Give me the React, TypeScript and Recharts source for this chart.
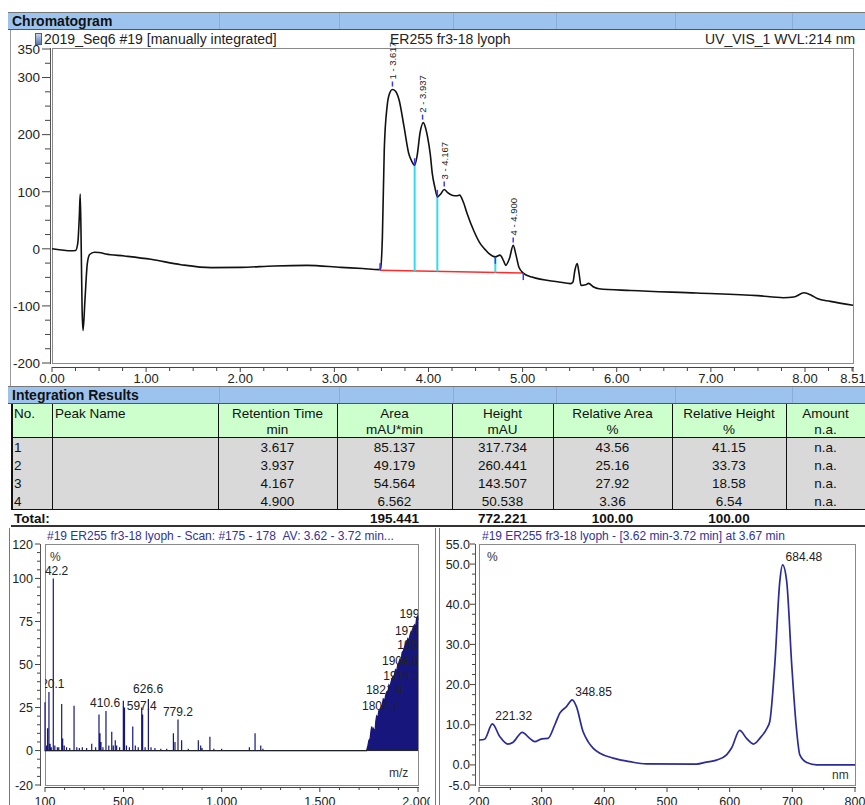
import React from "react";
import { Area, AreaChart, Line, LineChart, ReferenceDot, ReferenceLine, XAxis, YAxis } from "recharts";

const FONT = "'Liberation Sans', Arial, Helvetica, sans-serif";
const BLUE_BAR = "#9cc3ee";
const GREEN = "#ccffcc";
const GRAY_ROW = "#d9d9d9";
const NAVY = "#16167c";
const TITLE_BLUE = "#333399";

// ---- chromatogram (UV_VIS_1, 214 nm) ----
const chromTime = [
  0, 0.1, 0.2, 0.25, 0.274, 0.29, 0.3, 0.311, 0.32, 0.33, 0.35, 0.375, 0.4, 0.45, 0.5, 0.57, 0.77, 1.05, 1.37,
  1.69, 2.01, 2.36, 2.71, 3.07, 3.3, 3.475, 3.49, 3.51, 3.53, 3.56, 3.58, 3.617, 3.65, 3.687, 3.74, 3.79, 3.82,
  3.853, 3.88, 3.91, 3.945, 3.97, 3.99, 4.02, 4.04, 4.07, 4.094, 4.13, 4.167, 4.2, 4.25, 4.3, 4.33, 4.37, 4.41,
  4.48, 4.55, 4.6, 4.64, 4.71, 4.76, 4.8, 4.82, 4.86, 4.9, 4.93, 4.96, 5.007, 5.1, 5.385, 5.51, 5.535, 5.555,
  5.58, 5.6, 5.62, 5.67, 5.7, 5.755, 5.81, 6.15, 6.85, 7.5, 7.77, 7.88, 7.99, 8.07, 8.13, 8.27, 8.51
];
const chromSignal = [
  0, -2, -3.5, -3, 10, 56, 96, -3, -108, -143, -90, -26, -10, -6, -6.5, -9, -12.6, -18.4, -27.8,
  -33, -32.5, -30, -29, -32.5, -34.5, -36.5, -35, 20, 173, 249, 269, 279, 276, 261, 214, 167, 154,
  146.5, 164, 203, 221, 211, 196, 164, 132, 106, 91, 96, 104, 99, 94, 93, 94, 82, 62,
  32, 9, -1, -8, -14, -11, -22, -29, -17, 6, -11, -32, -42.5, -49.5, -58, -61, -58, -38,
  -26, -43.5, -64, -63, -60.5, -67, -70, -73, -77.5, -82, -85.6, -84.5, -77, -81.6, -87, -92, -99
];
const chromXLabels = [0, 1, 2, 3, 4, 5, 6, 7, 8, 8.51];
const chromYLabels = [350, 300, 200, 100, 0, -100, -200];

// integration results
const peakNo = [1, 2, 3, 4];
const retTime = [3.617, 3.937, 4.167, 4.9];
const peakArea = [85.137, 49.179, 54.564, 6.562];
const peakHeight = [317.734, 260.441, 143.507, 50.538];
const relArea = [43.56, 25.16, 27.92, 3.36];
const relHeight = [41.15, 33.73, 18.58, 6.54];
const peakTop = [279, 221, 104, 6];
const totals = { area: 195.441, height: 772.221, relArea: 100, relHeight: 100 };

// integration baseline and delimiters
const baselineStart = { t: 3.485, v: -37.7 };
const baselineEnd = { t: 5.007, v: -42.5 };
const dropTime = [3.853, 4.094, 4.71];
const dropBase = [-38.9, -39.6, -41.6];
const dropTop = [146.5, 91, -14];

// ---- MS spectrum ----
const msStickMz = [
  100, 108, 113, 120.1, 126, 132, 142.2, 150, 163, 170, 185, 190, 198, 210, 226, 248, 262, 275, 290, 312, 338, 358,
  375, 380, 385, 395, 410.6, 425, 440, 448, 458, 465, 480, 499, 505, 515, 530, 547, 560, 575, 592.6, 597.4, 610,
  626.6, 640, 660, 690, 720, 754, 762, 777.5, 796, 830, 881, 893, 900, 940, 960, 1000, 1141, 1170, 1199, 1210
];
const msStickPct = [
  28, 3, 13, 34, 4, 2, 100, 3, 2, 2, 27, 7, 3, 2, 1.5, 26, 2, 1.5, 2, 1.5, 4, 2,
  21, 10, 5, 2, 23, 3, 11, 3, 6, 3, 2, 29, 25, 3, 2, 14, 3, 2, 25, 21, 2,
  30, 2, 1.5, 1, 1, 10, 5, 18, 6, 1, 6, 3, 1.5, 8, 1, 1, 2, 10, 3, 1
];
const msDenseMz = [
  1738, 1745, 1750, 1756, 1760, 1764, 1768, 1772, 1777, 1781, 1785, 1789, 1795, 1800, 1806, 1812, 1818, 1823,
  1830, 1835, 1840, 1848, 1852, 1857, 1863, 1868, 1874, 1880, 1885, 1891, 1897, 1902, 1908, 1914, 1919, 1925,
  1931, 1936, 1942, 1948, 1953, 1959, 1965, 1970, 1976, 1982, 1987, 1993, 1998, 2000
];
const msDensePct = [
  0, 3, 6, 7, 11, 14, 10, 13, 12, 11, 17, 20, 19, 23, 24, 25, 27, 30,
  29, 32, 34, 35, 38, 37, 40, 42, 43, 44, 47, 46, 50, 51, 53, 52, 57, 58,
  60, 62, 63, 65, 64, 67, 69, 68, 72, 73, 71, 77, 78, 76
];
const msLabelText = ["120.1", "142.2", "410.6", "597.4", "626.6", "779.2", "1802.7", "1821.9", "1914.3", "1904.6", "1958.9", "1970.6", "1999.2"];
const msLabelMz = [123, 142, 406, 593, 625, 777, 1808, 1828, 1917, 1910, 1988, 1976, 1999];
const msLabelPct = [36.4, 102, 25.5, 23.6, 33.5, 20.1, 23.6, 33, 41, 49.8, 59, 67, 77];
const msXLabels = [100, 500, 1000, 1500, 2000];
const msYLabels = [120, 100, 75, 50, 25, 0, -20];

// ---- UV/VIS spectrum ----
const uvNm = [
  200, 209, 221.32, 233, 246, 254, 269, 281, 289, 300, 310, 321, 329, 339.5, 348.85, 355.5, 366, 374, 382, 393,
  414, 441, 467, 547, 563, 579, 595, 603, 616, 627, 638, 648, 659, 664, 672, 680, 684.48, 691, 699, 706, 712,
  723, 739, 800
];
const uvPct = [
  6.2, 6.4, 10.2, 7.1, 5.2, 5.6, 8.1, 6.6, 5.8, 6.5, 6.6, 10, 12.9, 14.5, 16.2, 14.5, 8.3, 5.8, 4.2, 2.9,
  1.7, 0.8, 0.25, 0.2, 0.7, 1.2, 2.5, 4.2, 8.6, 6.6, 5.2, 6.6, 9, 10.8, 25, 45.7, 49.8, 45.7, 25, 10, 2.5,
  0.6, 0, 0
];
const uvPeakNm = [221.32, 348.85, 684.48];
const uvPeakPct = [10.2, 16.2, 49.8];
const uvXLabels = [200, 300, 400, 500, 600, 700, 800];
const uvYLabels = [55, 50, 40, 30, 20, 10, 0, -5];

const chromData = chromTime.map((t, i) => ({ t, v: chromSignal[i] }));
const msData = [
  ...msStickMz.flatMap((mz, i) => [
    { mz, pct: 0 },
    { mz, pct: msStickPct[i] },
    { mz, pct: 0 }
  ]),
  ...msDenseMz.map((mz, i) => ({ mz, pct: msDensePct[i] }))
];
const uvData = uvNm.map((nm, i) => ({ nm, pct: uvPct[i] }));

function range(start: number, step: number, count: number) {
  return Array.from({ length: count }, (_, i) => Number((start + i * step).toFixed(4)));
}

const has = (list: number[], v: number) => list.some((l) => Math.abs(l - v) < 1e-6);

function yTick(opts: { majors: number[]; gap: number; major: number; minor: number; labelGap: number; size: number; fmt: (v: number) => string }) {
  return (props: any) => {
    const { x, y, payload } = props;
    const isMajor = has(opts.majors, payload.value);
    const x2 = x - opts.gap;
    return (
      <g>
        <line x1={x2 - (isMajor ? opts.major : opts.minor)} x2={x2} y1={y} y2={y} stroke="#444" />
        {isMajor && (
          <text x={x - opts.labelGap} y={y} dy="0.36em" textAnchor="end" fontSize={opts.size} fill="#222" fontFamily={FONT}>
            {opts.fmt(payload.value)}
          </text>
        )}
      </g>
    );
  };
}

function xTick(opts: { majors: number[]; gap: number; major: number; minor: number; labelY: number; size: number; fmt: (v: number) => string }) {
  return (props: any) => {
    const { x, y, payload } = props;
    const isMajor = has(opts.majors, payload.value);
    const y1 = y + opts.gap;
    return (
      <g>
        <line x1={x} x2={x} y1={y1} y2={y1 + (isMajor ? opts.major : opts.minor)} stroke="#444" />
        {isMajor && (
          <text x={x} y={y + opts.labelY} textAnchor="middle" fontSize={opts.size} fill="#222" fontFamily={FONT}>
            {opts.fmt(payload.value)}
          </text>
        )}
      </g>
    );
  };
}

function PeakLabel(props: any) {
  const { cx, cy, text } = props;
  return (
    <g>
      <line x1={cx} x2={cx} y1={cy - 8} y2={cy - 3} stroke="#3a3aff" strokeWidth={1.5} />
      <text
        x={cx}
        y={cy - 10}
        transform={`rotate(-90 ${cx} ${cy - 10})`}
        dominantBaseline="central"
        fontSize={9.5}
        fill="#222"
        fontFamily={FONT}
      >
        {text}
      </text>
    </g>
  );
}

function Delimiter(props: any) {
  const { cx, cy, down } = props;
  return <line x1={cx} x2={cx} y1={down ? cy : cy - 7} y2={down ? cy + 7 : cy} stroke="#3a3aff" strokeWidth={1.5} />;
}

function PlainLabel(props: any) {
  const { cx, cy, text, anchor, dx, dy, clip } = props;
  return (
    <text
      x={cx + (dx || 0)}
      y={cy + (dy || 0)}
      textAnchor={anchor}
      fontSize={12}
      fill="#222"
      fontFamily={FONT}
      clipPath={clip ? `url(#${clip})` : undefined}
    >
      {text}
    </text>
  );
}

const box = (left: number, top: number, width: number, height: number, extra: React.CSSProperties = {}): React.CSSProperties => ({
  position: "absolute",
  left,
  top,
  width,
  height,
  boxSizing: "border-box",
  ...extra
});

function Chromatogram() {
  const delimiters = [
    { t: baselineStart.t, v: baselineStart.v, down: false },
    { t: dropTime[0], v: dropTop[0], down: false },
    { t: dropTime[1], v: dropTop[1], down: false },
    { t: dropTime[2], v: dropTop[2], down: true },
    { t: baselineEnd.t, v: baselineEnd.v, down: true }
  ];
  return (
    <>
      <div style={box(52, 48, 802, 316, { border: "1px solid #8a8a8a" })} />
      <div style={box(50, 48, 1, 316, { background: "#555" })} />
      <div style={box(52, 367, 802, 1, { background: "#444" })} />
      <div style={{ position: "absolute", left: 0, top: 0 }}>
        <LineChart width={865} height={395} data={chromData} margin={{ top: 49, right: 12, bottom: 4, left: 10 }}>
          <XAxis
            dataKey="t"
            type="number"
            domain={[0, 8.51]}
            ticks={[...range(0, 0.25, 35), 8.51]}
            interval={0}
            axisLine={false}
            tickLine={false}
            tickSize={0}
            tickMargin={0}
            height={28}
            tick={xTick({ majors: chromXLabels, gap: 4, major: 5, minor: 4, labelY: 20, size: 13, fmt: (v) => v.toFixed(2) })}
          />
          <YAxis
            type="number"
            domain={[-200, 350]}
            ticks={range(-200, 25, 23)}
            interval={0}
            axisLine={false}
            tickLine={false}
            tickSize={0}
            tickMargin={0}
            width={42}
            tick={yTick({ majors: chromYLabels, gap: 2, major: 8, minor: 5, labelGap: 12, size: 13.5, fmt: (v) => String(v) })}
          />
          <ReferenceLine
            segment={[
              { x: baselineStart.t, y: baselineStart.v },
              { x: baselineEnd.t, y: baselineEnd.v }
            ]}
            stroke="#ff2a2a"
            strokeWidth={1.5}
          />
          {dropTime.map((t, i) => (
            <ReferenceLine
              key={`drop${i}`}
              segment={[
                { x: t, y: dropBase[i] },
                { x: t, y: dropTop[i] }
              ]}
              stroke="#33dcec"
              strokeWidth={2}
            />
          ))}
          <Line type="monotone" dataKey="v" stroke="#111" strokeWidth={1.6} dot={false} isAnimationActive={false} />
          {delimiters.map((d, i) => (
            <ReferenceDot key={`del${i}`} x={d.t} y={d.v} r={0} shape={(p: any) => <Delimiter {...p} down={d.down} />} />
          ))}
          {retTime.map((rt, i) => (
            <ReferenceDot
              key={`pk${i}`}
              x={rt}
              y={peakTop[i]}
              r={0}
              shape={(p: any) => <PeakLabel {...p} text={`${peakNo[i]} - ${rt.toFixed(3)}`} />}
            />
          ))}
        </LineChart>
      </div>
    </>
  );
}

function MassSpectrum() {
  return (
    <>
      <div style={box(45, 544, 374, 242, { border: "1px solid #8a8a8a" })} />
      <div style={box(40, 544, 1, 242, { background: "#555" })} />
      <div style={box(45, 787, 374, 1, { background: "#444" })} />
      <div style={{ position: "absolute", left: 0, top: 527 }}>
        <AreaChart width={430} height={278} data={msData} margin={{ top: 17, right: 12, bottom: 0, left: 5 }}>
          <XAxis
            dataKey="mz"
            type="number"
            domain={[100, 2000]}
            ticks={range(100, 100, 20)}
            interval={0}
            axisLine={false}
            tickLine={false}
            tickSize={0}
            tickMargin={0}
            height={20}
            tick={xTick({ majors: msXLabels, gap: 2, major: 5, minor: 3, labelY: 21, size: 12.5, fmt: (v) => v.toLocaleString("en-US") })}
          />
          <YAxis
            type="number"
            domain={[-20, 120]}
            ticks={range(-20, 5, 29)}
            interval={0}
            axisLine={false}
            tickLine={false}
            tickSize={0}
            tickMargin={0}
            width={40}
            tick={yTick({ majors: msYLabels, gap: 5, major: 5, minor: 3, labelGap: 12, size: 12.5, fmt: (v) => String(v) })}
          />
          <Area
            type="linear"
            dataKey="pct"
            stroke={NAVY}
            strokeWidth={1.2}
            fill={NAVY}
            fillOpacity={1}
            dot={false}
            isAnimationActive={false}
          />
          <ReferenceLine y={0} stroke="#222" strokeWidth={1} />
          {msLabelText.map((text, i) => (
            <ReferenceDot
              key={`ml${i}`}
              x={msLabelMz[i]}
              y={msLabelPct[i]}
              r={0}
              shape={(p: any) => <PlainLabel {...p} text={text} anchor="middle" clip="msPlotClip" />}
            />
          ))}
        </AreaChart>
      </div>
    </>
  );
}

function UvSpectrum() {
  return (
    <>
      <div style={box(479, 544, 377, 242, { border: "1px solid #8a8a8a" })} />
      <div style={box(475, 544, 1, 242, { background: "#555" })} />
      <div style={box(479, 787, 377, 1, { background: "#444" })} />
      <div style={{ position: "absolute", left: 440, top: 527 }}>
        <LineChart width={425} height={278} data={uvData} margin={{ top: 17, right: 10, bottom: 0, left: 0 }}>
          <XAxis
            dataKey="nm"
            type="number"
            domain={[200, 800]}
            ticks={range(200, 50, 13)}
            interval={0}
            axisLine={false}
            tickLine={false}
            tickSize={0}
            tickMargin={0}
            height={20}
            tick={xTick({ majors: uvXLabels, gap: 2, major: 5, minor: 3, labelY: 21, size: 12.5, fmt: (v) => String(v) })}
          />
          <YAxis
            type="number"
            domain={[-5, 55]}
            ticks={range(-5, 2.5, 25)}
            interval={0}
            axisLine={false}
            tickLine={false}
            tickSize={0}
            tickMargin={0}
            width={39}
            tick={yTick({ majors: uvYLabels, gap: 4, major: 5, minor: 3, labelGap: 9, size: 12.5, fmt: (v) => v.toFixed(1) })}
          />
          <Line type="monotone" dataKey="pct" stroke="#2a2a9a" strokeWidth={1.7} dot={false} isAnimationActive={false} />
          {uvPeakNm.map((nm, i) => (
            <ReferenceDot
              key={`uv${i}`}
              x={nm}
              y={uvPeakPct[i]}
              r={0}
              shape={(p: any) => <PlainLabel {...p} text={nm.toFixed(2)} anchor="start" dx={3} dy={-4} />}
            />
          ))}
        </LineChart>
      </div>
    </>
  );
}

const tableCols = [11, 52, 218, 337, 452, 553, 672, 786, 865];
const headLine1 = ["No.", "Peak Name", "Retention Time", "Area", "Height", "Relative Area", "Relative Height", "Amount"];
const headLine2 = ["", "", "min", "mAU*min", "mAU", "%", "%", "n.a."];
const gridX = [219, 339, 453, 556, 675, 792];

function SectionBar({ top, label }: { top: number; label: string }) {
  return (
    <div style={box(8, top, 857, 18, { background: BLUE_BAR, borderTop: "1px solid #777", borderBottom: "1px solid #555" })}>
      {gridX.map((x) => (
        <div key={x} style={box(x - 8, 0, 1, 16, { background: "rgba(60,80,110,0.18)" })} />
      ))}
      <span style={{ position: "absolute", left: 4, top: 0, fontWeight: 700, fontSize: 14, lineHeight: "16px", color: "#111" }}>{label}</span>
    </div>
  );
}

function IntegrationTable() {
  const rowTop = 438;
  const rowH = 18;
  const cells = (values: string[], top: number, h: number, style: React.CSSProperties) =>
    values.map((v, c) => (
      <div
        key={`${top}-${c}`}
        style={box(tableCols[c], top, tableCols[c + 1] - tableCols[c], h, {
          textAlign: c < 2 ? "left" : "center",
          paddingLeft: c < 2 ? 3 : 0,
          ...style
        })}
      >
        {v}
      </div>
    ));
  const rows = peakNo.map((n, i) => [
    String(n),
    "",
    retTime[i].toFixed(3),
    peakArea[i].toFixed(3),
    peakHeight[i].toFixed(3),
    relArea[i].toFixed(2),
    relHeight[i].toFixed(2),
    "n.a."
  ]);
  return (
    <>
      <SectionBar top={386} label="Integration Results" />
      <div style={box(11, 404, 854, 34, { background: GREEN, borderBottom: "1px solid #111" })} />
      <div style={box(11, rowTop, 854, rowH * 4, { background: GRAY_ROW, borderBottom: "1px solid #111" })} />
      {tableCols.slice(0, 8).map((x, i) => (
        <div key={`vl${i}`} style={box(x, 404, i === 0 ? 1.5 : 1, 106, { background: "#111" })} />
      ))}
      {cells(headLine1, 405, 17, { fontSize: 13.5, lineHeight: "17px" })}
      {cells(headLine2, 421, 17, { fontSize: 13.5, lineHeight: "17px" })}
      {rows.map((r, i) => cells(r, rowTop + i * rowH + 1, rowH, { fontSize: 13.5, lineHeight: "18px" }))}
      <div style={box(11, 510, 854, 17, { borderBottom: "2px solid #333" })} />
      {cells(
        ["Total:", "", "", totals.area.toFixed(3), totals.height.toFixed(3), totals.relArea.toFixed(2), totals.relHeight.toFixed(2), ""],
        510,
        17,
        { fontSize: 13.5, lineHeight: "17px", fontWeight: 700 }
      )}
    </>
  );
}

export default function App() {
  return (
    <div style={{ position: "relative", width: 865, height: 805, overflow: "hidden", background: "#fff", fontFamily: FONT, color: "#111" }}>
      <style>{`body{margin:0}`}</style>
      <svg width={0} height={0} style={{ position: "absolute", left: 0, top: 0 }}>
        <defs>
          <clipPath id="msPlotClip" clipPathUnits="userSpaceOnUse">
            <rect x={45} y={17} width={373} height={241} />
          </clipPath>
        </defs>
      </svg>
      <SectionBar top={12} label="Chromatogram" />
      <div style={box(10, 30, 1, 357, { background: "#999" })} />
      <div style={box(35, 33, 7, 12, { background: "linear-gradient(#c9d6ea,#5b78a8)", border: "1px solid #44608e" })} />
      <div style={{ position: "absolute", left: 44, top: 31, fontSize: 14, lineHeight: "16px", color: "#222" }}>2019_Seq6 #19 [manually integrated]</div>
      <div style={{ position: "absolute", left: 390, top: 31, fontSize: 14, lineHeight: "16px", color: "#222" }}>ER255 fr3-18 lyoph</div>
      <div style={{ position: "absolute", left: 705, top: 31, fontSize: 14, lineHeight: "16px", color: "#222" }}>UV_VIS_1 WVL:214 nm</div>
      <Chromatogram />
      <IntegrationTable />
      <div style={box(9, 528, 1, 277, { background: "#777" })} />
      <div style={box(435, 528, 1, 277, { background: "#777" })} />
      <div style={box(439, 528, 1, 277, { background: "#777" })} />
      <div style={{ position: "absolute", left: 47, top: 529, fontSize: 12, lineHeight: "14px", color: TITLE_BLUE, whiteSpace: "nowrap" }}>
        #19 ER255 fr3-18 lyoph - Scan: #175 - 178&nbsp;&nbsp;AV: 3.62 - 3.72 min...
      </div>
      <div style={{ position: "absolute", left: 482, top: 529, fontSize: 12, lineHeight: "14px", color: TITLE_BLUE, whiteSpace: "nowrap" }}>
        #19 ER255 fr3-18 lyoph - [3.62 min-3.72 min] at 3.67 min
      </div>
      <MassSpectrum />
      <UvSpectrum />
      <div style={{ position: "absolute", left: 50, top: 550, fontSize: 12, color: "#333" }}>%</div>
      <div style={{ position: "absolute", left: 487, top: 550, fontSize: 12, color: "#333" }}>%</div>
      <div style={{ position: "absolute", left: 389, top: 766, fontSize: 12, color: "#333" }}>m/z</div>
      <div style={{ position: "absolute", left: 832, top: 768, fontSize: 12, color: "#333" }}>nm</div>
    </div>
  );
}
